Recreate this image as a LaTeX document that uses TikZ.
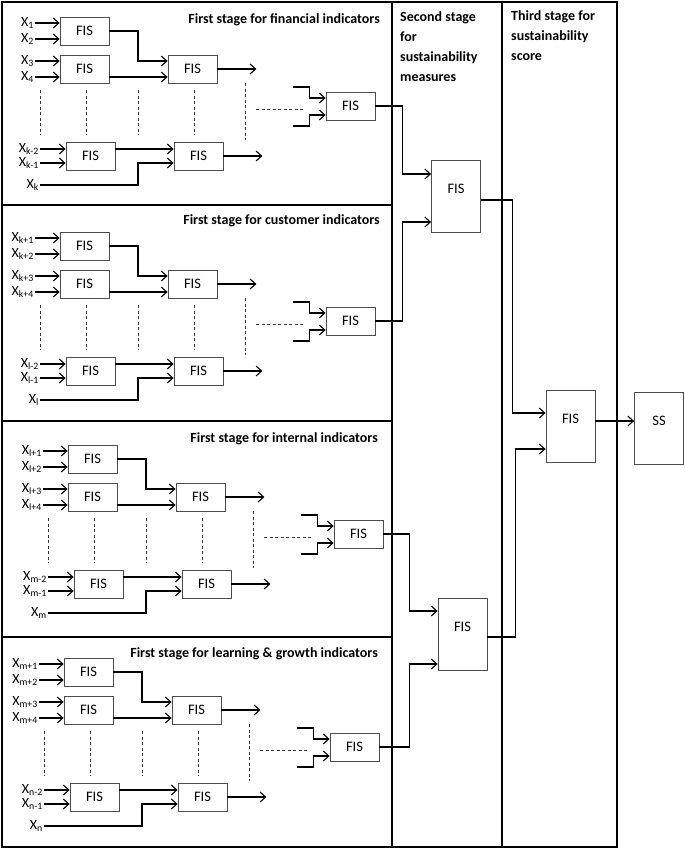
\documentclass[tikz,border=0pt]{standalone}
\usepackage{fontspec}
\setmainfont{Carlito}
\usepackage{tikz}
\usetikzlibrary{arrows.meta}

% one first-stage block: prefix, shift, four top subscripts, last index letter
\newcommand{\firststage}[7]{%
  \begin{scope}[shift={#2}]
    % FIS boxes
    \node[fis] (#1a) at (24.5,14) {FIS};
    \node[fis] (#1b) at (24.5,52) {FIS};
    \node[fis] (#1c) at (132.5,52) {FIS};
    \node[fis] (#1d) at (30.5,139) {FIS};
    \node[fis] (#1e) at (138.5,139) {FIS};
    \node[fis] (#1f) at (290.5,89) {FIS};
    % input variables
    \node[xlab] (#1x1) at (-25,6) {X\textsubscript{#3}};
    \node[xlab] (#1x2) at (-25,22) {X\textsubscript{#4}};
    \node[xlab] (#1x3) at (-25,44) {X\textsubscript{#5}};
    \node[xlab] (#1x4) at (-25,60) {X\textsubscript{#6}};
    \node[xlab] (#1x5) at (-20,132) {X\textsubscript{#7-2}};
    \node[xlab] (#1x6) at (-20,146) {X\textsubscript{#7-1}};
    \node[xlab] (#1x7) at (-20,168) {X\textsubscript{#7}};
    \foreach \i/\b in {1/a,2/a,3/b,4/b,5/d,6/d}
      \draw[arr] (#1x\i.east) -- (#1x\i.east -| #1\b.west);
    % links between the boxes
    \coordinate (#1m) at (78,0);
    \draw[arr] (#1a.east) -| (#1m |- #1x3) -- (#1c.west |- #1x3);
    \draw[arr] (#1b.east |- #1x4) -- (#1c.west |- #1x4);
    \draw[arr] (#1d.east |- #1x5) -- (#1e.west |- #1x5);
    \draw[arr] (#1x7.east) -| (#1m |- #1x6) -- (#1e.west |- #1x6);
    \draw[arr] (#1c.east) -- ([xshift=39pt]#1c.east);
    \draw[arr] (#1e.east) -- ([xshift=39pt]#1e.east);
    % dashed continuation
    \foreach \dx in {-20,26,78,134}
      \draw[dots] (\dx,73) -- (\dx,118);
    \draw[dots] (185,66) -- (185,123);
    \draw[dots] (196,92) -- (245,92);
    % inputs of the last FIS
    \draw[arr] ([xshift=-33pt,yshift=19pt]#1f.west) -| ([xshift=-16pt,yshift=8pt]#1f.west) -- ([yshift=8pt]#1f.west);
    \draw[arr] ([xshift=-33pt,yshift=-20pt]#1f.west) -| ([xshift=-16pt,yshift=-9pt]#1f.west) -- ([yshift=-9pt]#1f.west);
  \end{scope}}

\tikzset{
  fis/.style={draw=black!70, line width=0.8pt, minimum width=49pt, minimum height=28pt, inner sep=0pt, font=\fontsize{14.5}{16}\selectfont},
  tall/.style={minimum height=72pt, text depth=14pt},
  arr/.style={-{Straight Barb[length=5.5pt,width=10pt]}, line width=1.1pt},
  frame/.style={line width=2.5pt},
  dots/.style={dash pattern=on 3pt off 2.5pt, line width=1pt, black!80},
  xlab/.style={anchor=east, inner sep=1pt, font=\fontsize{14}{16}\selectfont},
  stagetitle/.style={font=\bfseries\fontsize{14}{20}\selectfont, inner sep=3pt}
}

\begin{document}
\begin{tikzpicture}[x=1pt,y=-1pt]
    \useasboundingbox (0,0) rectangle (685,849);

    % Draw the frames of the three stages
    \draw[frame] (2,2) rectangle (617,847);
    \draw[frame] (392,2) -- (392,847);
    \draw[frame] (502,2) -- (502,847);
    \foreach \y in {205,421,637}
      \draw[frame] (2,\y) -- (392,\y);

    % Stage titles
    \node[stagetitle, anchor=base east] at (383,23) {First stage for financial indicators};
    \node[stagetitle, anchor=base east] at (383,224) {First stage for customer indicators};
    \node[stagetitle, anchor=base east] at (381,442) {First stage for internal indicators};
    \node[stagetitle, anchor=base east] at (381,657) {First stage for learning \& growth indicators};
    \node[stagetitle, anchor=north west, align=left] at (397,8) {Second stage\\for\\sustainability\\measures};
    \node[stagetitle, anchor=north west, align=left] at (508,7) {Third stage for\\sustainability\\score};

    % First stage blocks
    \firststage{fin}{(60,17)}{1}{2}{3}{4}{k}
    \firststage{cus}{(60,232)}{k+1}{k+2}{k+3}{k+4}{l}
    \firststage{int}{(68,445)}{l+1}{l+2}{l+3}{l+4}{m}
    \firststage{lrn}{(64,658)}{m+1}{m+2}{m+3}{m+4}{n}

    % Second and third stage
    \node[fis, tall] (s2a) at (456,196) {FIS};
    \node[fis, tall] (s2b) at (462.5,634) {FIS};
    \node[fis, tall] (s3) at (570.5,426) {FIS};
    \node[fis, tall] (ss) at (659,428) {SS};

    \draw[arr] (finf.east) -| ([xshift=-29pt,yshift=22pt]s2a.west) -- ([yshift=22pt]s2a.west);
    \draw[arr] (cusf.east) -| ([xshift=-29pt,yshift=-26pt]s2a.west) -- ([yshift=-26pt]s2a.west);
    \draw[arr] (intf.east) -| ([xshift=-28pt,yshift=23pt]s2b.west) -- ([yshift=23pt]s2b.west);
    \draw[arr] (lrnf.east) -| ([xshift=-28pt,yshift=-30pt]s2b.west) -- ([yshift=-30pt]s2b.west);
    \draw[arr] ([yshift=-4pt]s2a.east) -| ([xshift=-33pt,yshift=13pt]s3.west) -- ([yshift=13pt]s3.west);
    \draw[arr] ([yshift=-3pt]s2b.east) -| ([xshift=-30pt,yshift=-23pt]s3.west) -- ([yshift=-23pt]s3.west);
    \draw[arr] ([yshift=5pt]s3.east) -- ([yshift=5pt]s3.east -| ss.west);
\end{tikzpicture}
\end{document}
